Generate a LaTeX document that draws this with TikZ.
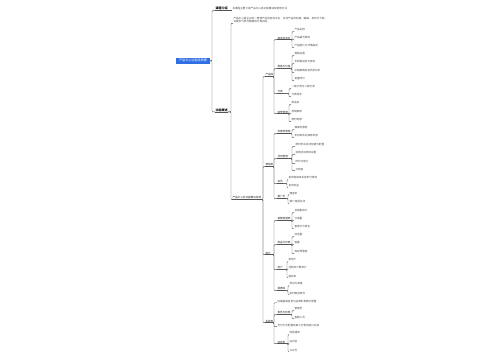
\documentclass[tikz,border=0pt]{standalone}
\usepackage{fontspec}
\setmainfont{Noto Sans CJK SC}
\usetikzlibrary{calc}
\definecolor{rootblue}{HTML}{2F6FE4}
\definecolor{linegray}{HTML}{555555}
\definecolor{textgray}{HTML}{4A4A4A}

\begin{document}
\begin{tikzpicture}[x=1pt,y=-1pt,
    link/.style={draw=linegray,line width=0.45pt,rounded corners=0.8pt},
    leaf/.style={anchor=west,inner sep=0.3pt,text=textgray,font=\fontsize{2.6}{3.4}\selectfont},
    topic/.style={leaf,text=black!85},
    main/.style={leaf,text=black,font=\bfseries\fontsize{3}{3.6}\selectfont},
    rootbox/.style={fill=rootblue,text=white,inner sep=0pt,minimum width=34pt,minimum height=5.6pt,font=\fontsize{3.1}{3.6}\selectfont}]
    \useasboundingbox (0,0) rectangle (500,360);

    % 中心主题
    \node[rootbox] (R) at (193,60.8) {产品中心功能结构图};
    \node[main] (A) at (215,8.7) {课程介绍};
    \node[main] (B) at (215,110) {功能概述};
    \foreach \n in {A,B}{
        \draw[link] (R.east) -| (\n.south west -| 212,0) -- (\n.south west);
    }
    \node[leaf] (A1) at (232,8.7) {本课程主要介绍产品中心各功能模块及使用方法};
    \draw[link] (A.south east) -- (A.south east -| A1.west);

    % 第二层
    \node[leaf,align=left] (B1) at (233,20) {产品中心是企业统一管理产品信息的平台，支持产品的创建、编辑、发布与下架，\\并提供分类与数据统计等功能。};
    \node[topic] (B2) at (232,198) {产品中心的功能模块说明};
    \foreach \n in {B1,B2}{
        \draw[link] (B.south east) -| (\n.south west -| 231,0) -- (\n.south west);
    }

    % 第三层
    \foreach \n/\y/\t in {C1/75/产品库, C2/165/营销类, C3/253/统计, C4/321/系统类}{
        \node[topic] (\n) at (265,\y) {\t};
        \draw[link] (B2.south east) -| (\n.south west -| 263,0) -- (\n.south west);
    }

    % 第四层
    \foreach \p/\n/\y/\s/\t in {C1/C11/38/topic/基本信息页, C1/C12/67/topic/规格与价格, C1/C13/92/topic/分类, C1/C14/112/topic/标签管理,
        C2/C21/132/topic/优惠券管理, C2/C22/157/topic/活动管理, C2/C23/182/topic/会员, C2/C24/197/topic/推广员,
        C3/C31/219/topic/销售数据表, C3/C32/243/topic/商品分析表, C3/C33/268/topic/用户, C3/C34/289/topic/报表库,
        C4/C41/301/leaf/店铺基础信息与品牌形象展示配置, C4/C42/313/topic/角色与权限,
        C4/C43/325/leaf/支付方式配置及第三方物流接口对接, C4/C44/342/topic/消息类}{
        \node[\s] (\n) at (277,\y) {\t};
        \draw[link] (\p.south east) -| (\n.south west -| 274,0) -- (\n.south west);
    }

    % 叶子节点：父节点/竖线x/文字x/列表
    \foreach \p/\bx/\lx/\list in {
        C11/292/294/{30/产品名称,38/产品编号规则,46/产品图片与详情描述},
        C12/292/294/{54/规格设置,62/多规格组合与库存,71/价格策略及会员折扣价,79/批量改价},
        C13/289/291/{87/一级分类与二级分类,95/分类排序},
        C14/289/291/{103/新品标,112/热销推荐,120/限时特惠},
        C21/292/294/{128/满减优惠券,136/折扣券及兑换券发放},
        C22/292/295/{145/限时秒杀活动创建与配置,153/拼团活动规则设置,162/砍价与助力,169/大转盘},
        C23/287/288/{178/会员等级体系及积分规则,186/会员权益},
        C24/288/289/{193/佣金率,202/推广海报生成},
        C31/292/294/{211/日销售统计,219/订单量,227/客单价与转化},
        C32/292/294/{235/浏览量,243/销量,252/库存预警值},
        C33/287/288/{260/新用户,268/活跃用户数统计,276/留存率},
        C34/288/289/{284/导出为表格,293/定时推送邮件},
        C42/292/294/{309/管理员,317/客服人员},
        C44/288/289/{333/短信通知,342/站内信,350/公众号}}{
        \foreach \y/\t [count=\i] in \list{
            \node[leaf] (\p-\i) at (\lx,\y) {\t};
            \draw[link] (\p.south east) -| (\p-\i.south west -| \bx,0) -- (\p-\i.south west);
        }
    }

    % 下划线
    \foreach \n in {A,B,B2,C1,C2,C3,C4,C11,C12,C13,C14,C21,C22,C23,C24,C31,C32,C33,C34,C42,C44}{
        \draw[link] (\n.south west) -- (\n.south east);
    }
\end{tikzpicture}
\end{document}
